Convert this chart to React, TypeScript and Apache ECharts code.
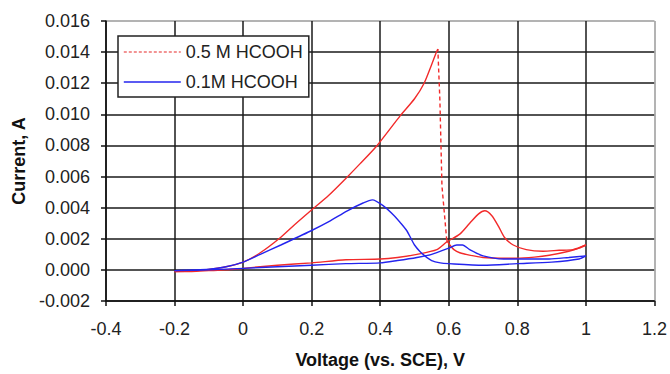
import React, { useEffect, useRef } from "react";
import * as echarts from "echarts";

// Tick / axis settings
const xTicks = [-0.4, -0.2, 0, 0.2, 0.4, 0.6, 0.8, 1.0, 1.2];
const yTicks = [-0.002, 0, 0.002, 0.004, 0.006, 0.008, 0.01, 0.012, 0.014, 0.016];

const seriesNames = ["0.5 M HCOOH", "0.1M HCOOH"];

// 0.5 M HCOOH, forward scan (-0.2 -> 1.0 V)
const redFwdV = [-0.2, -0.15, -0.1, -0.05, 0, 0.1, 0.2, 0.3, 0.4, 0.45, 0.507, 0.565, 0.594, 0.632, 0.661, 0.687, 0.705, 0.725, 0.745, 0.762, 0.788, 0.826, 0.875, 0.922, 0.962, 1.0];
const redFwdI = [-0.0001, -0.0001, -0.00005, 0.0, 0.0001, 0.0003, 0.00045, 0.00065, 0.0007, 0.0008, 0.001, 0.0013, 0.0018, 0.0023, 0.003, 0.0036, 0.0038, 0.0035, 0.0028, 0.0021, 0.0016, 0.0013, 0.0012, 0.00126, 0.0013, 0.0016];
// 0.5 M HCOOH, reverse scan (1.0 -> 0.594 V)
const redRevV = [1.0, 0.98, 0.95, 0.893, 0.85, 0.797, 0.75, 0.7, 0.66, 0.632, 0.615, 0.603, 0.594];
const redRevI = [0.0016, 0.0014, 0.0012, 0.00094, 0.00082, 0.00075, 0.00075, 0.0008, 0.00095, 0.0011, 0.0013, 0.0016, 0.0019];
// 0.5 M HCOOH, sudden current jump
const redDropV = [0.594, 0.58, 0.574, 0.568];
const redDropI = [0.0019, 0.0054, 0.0109, 0.0142];
// 0.5 M HCOOH, reverse scan after the jump (0.568 -> -0.2 V)
const redRetV = [0.568, 0.562, 0.55, 0.528, 0.5, 0.458, 0.391, 0.34, 0.296, 0.25, 0.197, 0.15, 0.11, 0.05, 0.0, -0.05, -0.1, -0.15, -0.2];
const redRetI = [0.0142, 0.0139, 0.0132, 0.012, 0.011, 0.0099, 0.008, 0.0068, 0.0058, 0.0048, 0.0038, 0.0029, 0.0021, 0.0011, 0.0005, 0.0002, 0.00003, -0.00007, -0.0001];

// 0.1M HCOOH, forward scan
const blueFwdV = [-0.2, -0.1, 0, 0.1, 0.2, 0.3, 0.4, 0.45, 0.507, 0.55, 0.6, 0.623, 0.64, 0.661, 0.7, 0.76, 0.8, 0.893, 0.95, 1.0];
const blueFwdI = [-0.00005, 0.0, 0.0001, 0.0002, 0.0003, 0.0004, 0.00045, 0.0006, 0.0008, 0.001, 0.0014, 0.0016, 0.0016, 0.0013, 0.0009, 0.0007, 0.0007, 0.0007, 0.0008, 0.0009];
// 0.1M HCOOH, reverse scan
const blueRevV = [1.0, 0.98, 0.9, 0.8, 0.7, 0.6, 0.575, 0.55, 0.53, 0.515, 0.5, 0.49, 0.478, 0.46, 0.44, 0.41, 0.377, 0.35, 0.304, 0.25, 0.197, 0.11, 0.05, 0.0, -0.05, -0.1, -0.2];
const blueRevI = [0.0009, 0.0007, 0.0005, 0.0004, 0.0003, 0.0004, 0.00045, 0.0006, 0.0009, 0.0012, 0.0016, 0.002, 0.0025, 0.003, 0.0035, 0.0041, 0.0045, 0.0043, 0.0038, 0.0031, 0.0025, 0.0016, 0.001, 0.0005, 0.0002, 0.00005, -0.00005];

const zip = (xs: number[], ys: number[]) => xs.map((x, i) => [x, ys[i]]);

const FONT = '"Liberation Sans", Arial, sans-serif';
const RED = "#f22a2a";
const BLUE = "#2424ee";
const GRID = "#1a1a1a";
const EDGE = "#9a9a9a";

export default function App() {
  const ref = useRef<HTMLDivElement>(null);
  useEffect(() => {
    if (!ref.current) return;
    const chart = echarts.init(ref.current, null, { renderer: "svg" });
    const xColors = xTicks.map((_, i) => (i === xTicks.length - 1 ? EDGE : GRID));
    const yColors = yTicks.map((_, i) => (i === yTicks.length - 1 ? EDGE : GRID));
    const lineBase = { type: "line", symbol: "none", showSymbol: false, animation: false, z: 3 };
    chart.setOption({
      animation: false,
      backgroundColor: "#ffffff",
      grid: { left: 106, right: 13, top: 21, bottom: 69, containLabel: false },
      legend: {
        show: true,
        orient: "vertical",
        left: 118,
        top: 36,
        selectedMode: false,
        backgroundColor: "#ffffff",
        borderColor: "#222",
        borderWidth: 1.5,
        padding: [7, 6, 6, 5],
        itemWidth: 57,
        itemHeight: 18,
        itemGap: 12,
        itemTextGap: 2,
        itemStyle: { opacity: 0 },
        textStyle: { fontFamily: FONT, fontSize: 18, color: "#222" },
        data: [
          { name: seriesNames[0], itemStyle: { opacity: 0 }, lineStyle: { color: "#ee7070", type: [3, 2], width: 1.6 } },
          { name: seriesNames[1], itemStyle: { opacity: 0 }, lineStyle: { color: BLUE, type: "solid", width: 1.6 } },
        ],
      },
      xAxis: {
        type: "value",
        min: xTicks[0],
        max: xTicks[xTicks.length - 1],
        interval: 0.2,
        name: "Voltage (vs. SCE), V",
        nameLocation: "middle",
        nameGap: 50,
        nameTextStyle: { fontFamily: FONT, fontSize: 18, fontWeight: "bold", color: "#111" },
        axisLine: { show: true, onZero: false, lineStyle: { color: "#111", width: 1.5 } },
        axisTick: { show: true, inside: false, length: 5, lineStyle: { color: "#111", width: 1.5 } },
        axisLabel: {
          margin: 19,
          fontFamily: FONT,
          fontSize: 18,
          color: "#222",
          formatter: (v: number) => String(Math.round(v * 10) / 10),
        },
        splitLine: { show: true, lineStyle: { color: xColors, width: 1.5 } },
      },
      yAxis: {
        type: "value",
        min: yTicks[0],
        max: yTicks[yTicks.length - 1],
        interval: 0.002,
        name: "Current, A",
        nameLocation: "middle",
        nameGap: 77,
        nameTextStyle: { fontFamily: FONT, fontSize: 18, fontWeight: "bold", color: "#111" },
        axisLine: { show: true, onZero: false, lineStyle: { color: "#111", width: 1.5 } },
        axisTick: { show: true, inside: false, length: 5, lineStyle: { color: "#111", width: 1.5 } },
        axisLabel: {
          margin: 16,
          fontFamily: FONT,
          fontSize: 18,
          color: "#222",
          formatter: (v: number) => (Math.abs(v) < 1e-9 ? 0 : v).toFixed(3),
        },
        splitLine: { show: true, lineStyle: { color: yColors, width: 1.5 } },
      },
      series: [
        {
          ...lineBase,
          name: seriesNames[0],
          data: zip(redDropV, redDropI),
          smooth: false,
          lineStyle: { color: RED, width: 1.4, type: [4, 3] },
          itemStyle: { color: RED },
        },
        {
          ...lineBase,
          name: seriesNames[0],
          data: zip(redRetV, redRetI),
          smooth: 0.25,
          lineStyle: { color: RED, width: 1.4 },
          itemStyle: { color: RED },
        },
        {
          ...lineBase,
          name: seriesNames[0],
          data: zip(redFwdV, redFwdI),
          smooth: 0.25,
          lineStyle: { color: RED, width: 1.4 },
          itemStyle: { color: RED },
        },
        {
          ...lineBase,
          name: seriesNames[0],
          data: zip(redRevV, redRevI),
          smooth: 0.25,
          lineStyle: { color: RED, width: 1.4 },
          itemStyle: { color: RED },
        },
        {
          ...lineBase,
          name: seriesNames[1],
          data: zip(blueFwdV, blueFwdI),
          smooth: 0.25,
          lineStyle: { color: BLUE, width: 1.4 },
          itemStyle: { color: BLUE },
        },
        {
          ...lineBase,
          name: seriesNames[1],
          data: zip(blueRevV, blueRevI),
          smooth: 0.25,
          lineStyle: { color: BLUE, width: 1.4 },
          itemStyle: { color: BLUE },
        },
      ],
    });
    return () => chart.dispose();
  }, []);
  return (
    <div
      ref={ref}
      style={{ position: "fixed", left: 0, top: 0, width: 670, height: 374, background: "#fff" }}
    />
  );
}
